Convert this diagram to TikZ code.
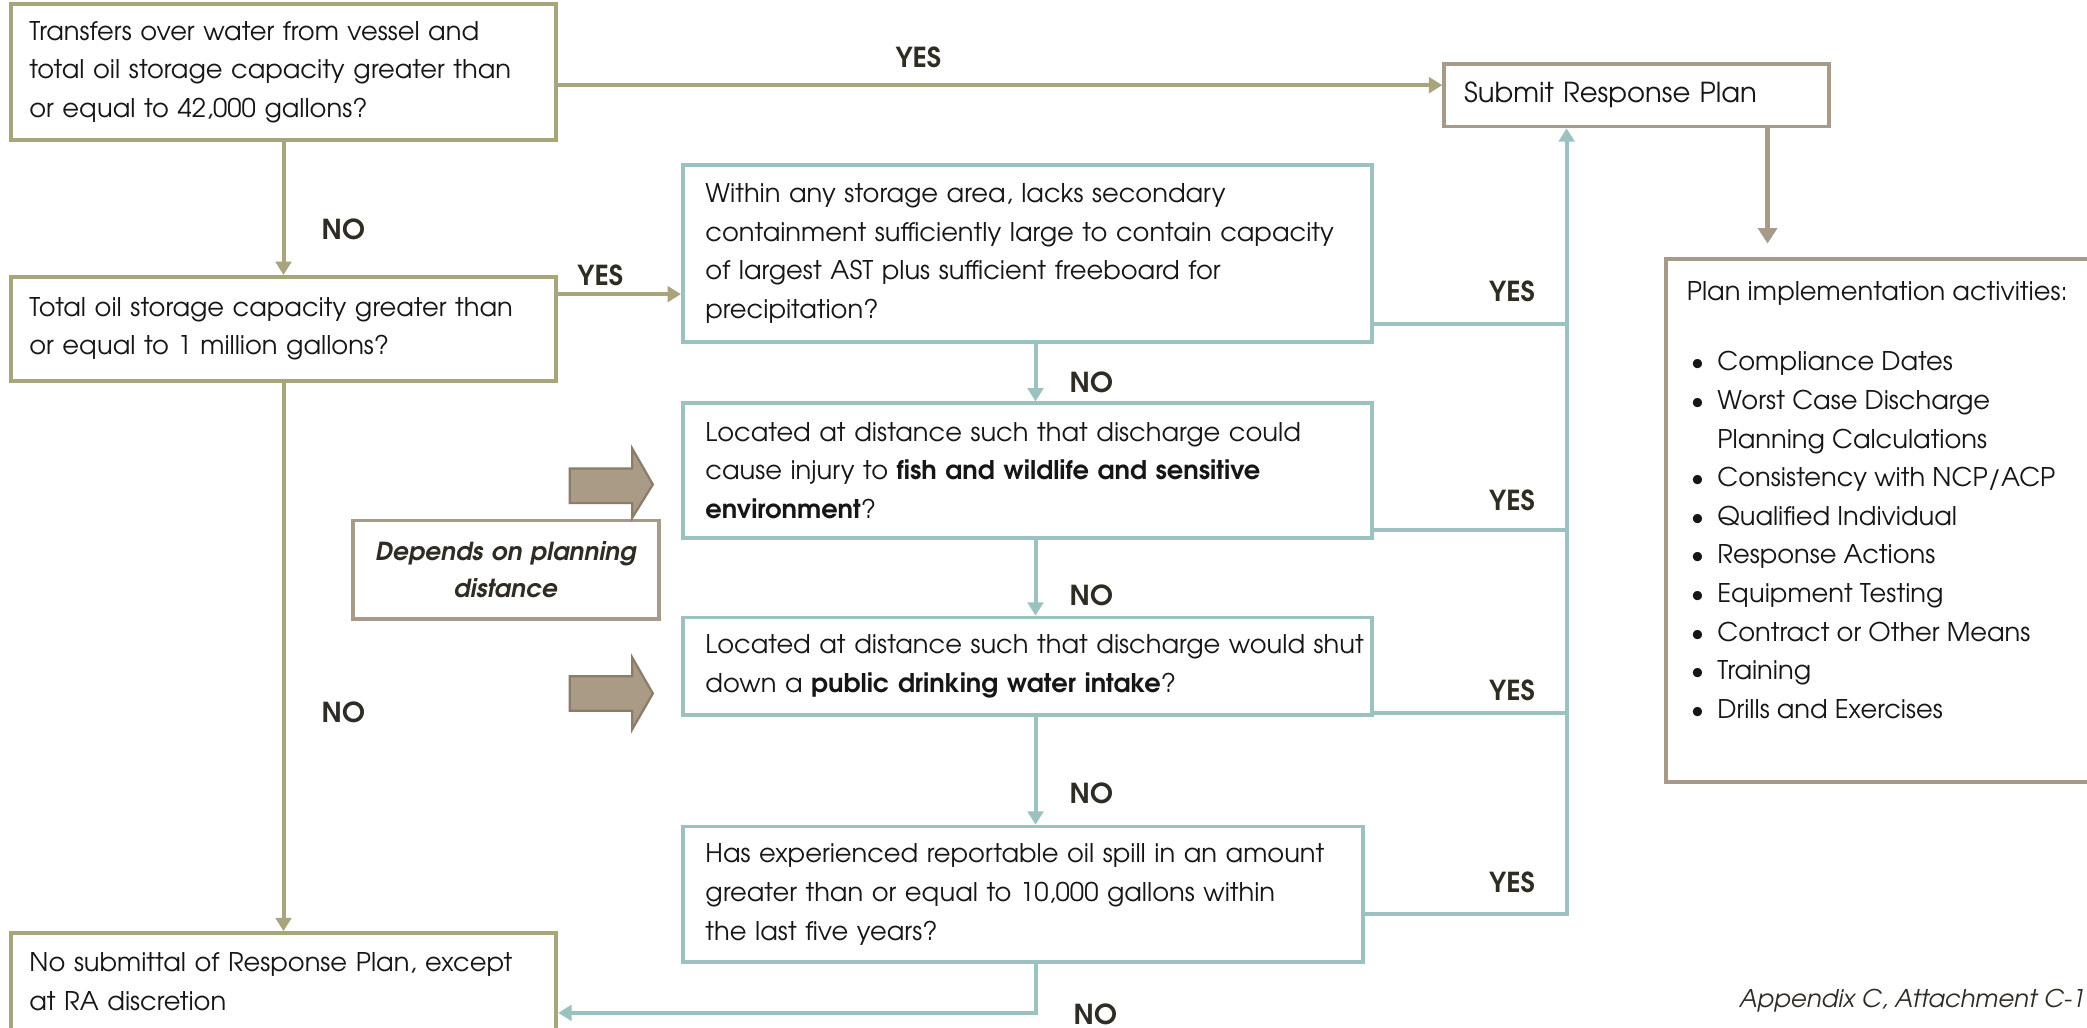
\documentclass[tikz,border=0pt]{standalone}
\usepackage{fontspec}
\setmainfont{TeX Gyre Adventor}
\usetikzlibrary{arrows.meta,calc}
\definecolor{olivec}{HTML}{A8A47C}
\definecolor{taupec}{HTML}{A89A88}
\definecolor{tealc}{HTML}{9BC1C1}
\definecolor{ink}{HTML}{161616}
\definecolor{lab}{HTML}{2F2C24}
\definecolor{blockfill}{HTML}{A99B86}
\definecolor{blockline}{HTML}{8A7D69}
\newcommand{\plb}{\hspace*{1.8pt}\makebox[12pt][l]{•}}
\newcommand{\pli}{\hspace*{1.8pt}\makebox[12pt][l]{}}
\newcommand{\lin}[1]{\mbox{#1}}
\begin{document}
\begin{tikzpicture}[x=0.6pt,y=-0.6pt,
  every node/.style={font=\fontsize{11.6pt}{17.4pt}\selectfont, text=ink},
  box/.style={draw, line width=1.7pt, align=left, inner xsep=8.4pt, inner ysep=0pt},
  obox/.style={box, draw=olivec},
  tbox/.style={box, draw=tealc, inner xsep=10.2pt},
  pbox/.style={box, draw=taupec},
  lbl/.style={font=\fontsize{12.4pt}{14pt}\selectfont\bfseries, text=lab},
  oline/.style={draw=olivec, line width=1.8pt, -{Triangle[length=6pt,width=7pt]}},
  tline/.style={draw=tealc, line width=1.8pt},
  tarrow/.style={tline, -{Triangle[length=6pt,width=7pt]}},
  blockarrow/.style={fill=blockfill, draw=blockline, line width=1pt, line join=miter}
]
\useasboundingbox (0,0) rectangle (1568,772);
\fill[white] (0,0) rectangle (1568,772);
\clip (0,0) rectangle (1568,772);

% boxes
\node[obox, text width=229.2pt, minimum height=61.2pt] (b1) at (213,54)
  {\lin{Transfers over water from vessel and}\\\lin{total oil storage capacity greater than}\\\lin{or equal to 42,000 gallons?}};
\node[obox, text width=229.2pt, minimum height=46.8pt] (b2) at (213,247)
  {\lin{Total oil storage capacity greater than}\\\lin{or equal to 1 million gallons?}};
\node[tbox, text width=290.4pt, minimum height=79.8pt] (b3) at (772,190.5)
  {\lin{Within any storage area, lacks secondary}\\\lin{containment sufficiently large to contain capacity}\\\lin{of largest AST plus sufficient freeboard for}\\\lin{precipitation?}};
\node[tbox, text width=290.4pt, minimum height=60.6pt] (b4) at (772,353.5)
  {\lin{Located at distance such that discharge could}\\\lin{cause injury to \textbf{fish and wildlife and sensitive}}\\\lin{\textbf{environment}?}};
\node[tbox, text width=290.4pt, minimum height=43.8pt] (b5) at (772,500.5)
  {\lin{Located at distance such that discharge would shut}\\\lin{down a \textbf{public drinking water intake}?}};
\node[tbox, text width=286.2pt, minimum height=61.2pt] (b6) at (768.5,672)
  {\lin{Has experienced reportable oil spill in an amount}\\\lin{greater than or equal to 10,000 gallons within}\\\lin{the last five years?}};
\node[obox, text width=229.2pt, minimum height=61.2pt] (bno) at (213,752)
  {\lin{No submittal of Response Plan, except}\\\lin{at RA discretion}\\\mbox{}};
\node[pbox, text width=155.4pt, inner xsep=9pt, minimum height=28.2pt,
      font=\fontsize{12.4pt}{15pt}\selectfont] (sub) at (1229.5,71.5)
  {Submit Response Plan};
\node[pbox, anchor=north west, minimum width=234pt, minimum height=235.8pt, inner sep=0pt] (plan) at (1250,193) {};
\node[anchor=north west, align=left, inner sep=0pt] (plantext) at (1267,211)
  {Plan implementation activities:\\[14.4pt]
   \plb Compliance Dates\\
   \plb Worst Case Discharge\\
   \pli Planning Calculations\\
   \plb Consistency with NCP/ACP\\
   \plb Qualified Individual\\
   \plb Response Actions\\
   \plb Equipment Testing\\
   \plb Contract or Other Means\\
   \plb Training\\
   \plb Drills and Exercises};
\node[pbox, align=center, text width=121.2pt, minimum height=44.4pt,
      font=\fontsize{11.2pt}{16.8pt}\selectfont\bfseries\itshape, text=lab] (dep) at (380,428)
  {Depends on planning\\distance};

% block arrows
\path[blockarrow] (428,352) -- (475,352) -- (475,337) -- (490.5,364) -- (475,389) -- (475,378) -- (428,378) -- cycle;
\path[blockarrow] (428,508) -- (475,508) -- (475,494) -- (490.5,521) -- (475,548) -- (475,534) -- (428,534) -- cycle;

% olive connectors
\coordinate (t1) at ($(b1.east)+(0,10)$);
\draw[oline] (t1) -- (t1 -| sub.west);
\draw[oline] (b1.south) -- (b2.north);
\coordinate (t2) at ($(b2.east)+(0,-26)$);
\draw[oline] (t2) -- (t2 -| b3.west);
\draw[oline] (b2.south) -- (bno.north);

% teal connectors
\coordinate (col) at (778,0);
\coordinate (bus) at (1177,0);
\coordinate (ybot) at (0,761);
\draw[tarrow] (b3.south -| col) -- (b4.north -| col);
\draw[tarrow] (b4.south -| col) -- (b5.north -| col);
\draw[tarrow] (b5.south -| col) -- (b6.north -| col);
\draw[tarrow] (b6.south -| col) |- (ybot -| bno.east);
\coordinate (y3) at ($(b3.south east)+(0,-15)$);
\coordinate (y4) at ($(b4.south east)+(0,-7)$);
\coordinate (y5) at ($(b5.south east)+(0,-3)$);
\coordinate (y6) at ($(b6.south east)+(0,-38)$);
\draw[tline] (y3) -- (y3 -| bus);
\draw[tline] (y4) -- (y4 -| bus);
\draw[tline] (y5) -- (y5 -| bus);
\draw[tarrow] (y6) -| (sub.south -| bus);

% plan arrow
\coordinate (pcol) at (1328,0);
\draw[draw=taupec, line width=2.4pt, -{Triangle[length=7pt,width=8.5pt]}] (sub.south -| pcol) -- ($(plan.north -| pcol)+(0,-10)$);

% labels
\node[lbl] (yes1) at (690,43) {YES};
\node[lbl] (no1) at (258,172) {NO};
\node[lbl] (yes2) at (451,207) {YES};
\node[lbl] (no2) at (258,535) {NO};
\node[lbl] (yes3) at (1136,219) {YES};
\node[lbl] (yes4) at (1136,376) {YES};
\node[lbl] (yes5) at (1136,519) {YES};
\node[lbl] (yes6) at (1136,663) {YES};
\node[lbl] (no3) at (820,287) {NO};
\node[lbl] (no4) at (820,447) {NO};
\node[lbl] (no5) at (820,596) {NO};
\node[lbl] (no6) at (823,762) {NO};

\node[anchor=east, inner sep=0pt, font=\fontsize{11pt}{13pt}\selectfont\itshape, text=lab] (app) at (1567,752)
  {Appendix C, Attachment C-1};
\end{tikzpicture}
\end{document}
